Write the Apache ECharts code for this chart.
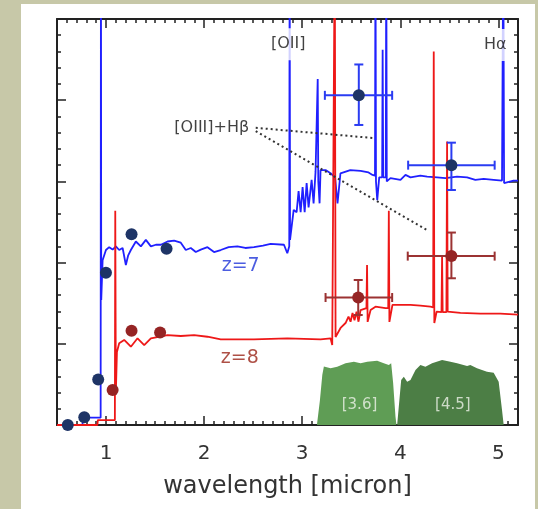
<!DOCTYPE html>
<html>
<head>
<meta charset="UTF-8">
<title>z=7 / z=8 spectra</title>
<script src="https://cdn.jsdelivr.net/npm/echarts@6/dist/echarts.min.js"></script>
<style>
  body { margin: 0; background: #c7c8a8; }
  #panel { position: absolute; left: 21px; top: 4px; width: 514px; height: 505px; background: #fff; }
  #main { position: absolute; left: 0; top: 0; width: 538px; height: 509px; }
</style>
</head>
<body>
<div id="panel"></div>
<div id="main"></div>
<script type="text/javascript">
// wavelength [micron], flux (arbitrary units)
var blueSpec = [
  [0.5, 0.0], [0.76, 0.0], [0.765, 0.09], [0.945, 0.09], [0.948, 6], [0.951, 1.54],
  [0.965, 2.03], [0.999, 2.155], [1.032, 2.19], [1.067, 2.16], [1.10, 2.20], [1.134, 2.155],
  [1.169, 2.18], [1.202, 1.97], [1.226, 2.09], [1.253, 2.155], [1.304, 2.26], [1.355, 2.2],
  [1.406, 2.28], [1.457, 2.2], [1.508, 2.22], [1.559, 2.22], [1.627, 2.26], [1.694, 2.27],
  [1.762, 2.245], [1.813, 2.155], [1.864, 2.18], [1.915, 2.13], [1.966, 2.16], [2.034, 2.19],
  [2.101, 2.13], [2.169, 2.155], [2.25, 2.19], [2.339, 2.2], [2.42, 2.18], [2.508, 2.19],
  [2.6, 2.21], [2.678, 2.23], [2.814, 2.22], [2.848, 2.115], [2.868, 2.2], [2.872, 6],
  [2.876, 2.28], [2.913, 2.65], [2.943, 2.62], [2.963, 2.88], [2.984, 2.62], [3.004, 2.93],
  [3.025, 2.62], [3.045, 2.98], [3.065, 2.68], [3.096, 3.02], [3.116, 2.73], [3.136, 3.12],
  [3.152, 3.1], [3.158, 4.26], [3.164, 3.0], [3.177, 2.73], [3.187, 3.14], [3.238, 3.14],
  [3.289, 3.1], [3.335, 3.05], [3.36, 2.73], [3.39, 3.1], [3.49, 3.14], [3.595, 3.13],
  [3.676, 3.11], [3.717, 3.08], [3.742, 3.07], [3.747, 6], [3.752, 3.0], [3.765, 2.77],
  [3.785, 3.05], [3.815, 3.05], [3.82, 4.62], [3.826, 3.05], [3.852, 3.05], [3.857, 6],
  [3.862, 3.0], [3.9, 3.04], [4.002, 3.02], [4.053, 3.08], [4.104, 3.05], [4.205, 3.07],
  [4.274, 3.06], [4.375, 3.05], [4.46, 3.04], [4.579, 3.06], [4.681, 3.05], [4.765, 3.02],
  [4.85, 3.03], [4.952, 3.02], [5.037, 3.01], [5.05, 6], [5.058, 2.98], [5.071, 2.98],
  [5.155, 3.01], [5.2, 3.01]
];
var redSpec = [
  [0.5, 0.0], [0.912, 0.0], [0.916, 0.06], [1.09, 0.06], [1.094, 2.64], [1.10, 0.4],
  [1.111, 0.9], [1.134, 1.006], [1.185, 1.047], [1.253, 0.964], [1.321, 1.068], [1.389, 0.985],
  [1.457, 1.068], [1.627, 1.108], [1.762, 1.096], [1.898, 1.108], [2.034, 1.087], [2.169, 1.055],
  [2.508, 1.055], [2.848, 1.068], [3.187, 1.055], [3.289, 1.068], [3.306, 0.985], [3.325, 1.0],
  [3.332, 6], [3.34, 1.084], [3.391, 1.195], [3.442, 1.256], [3.472, 1.334], [3.493, 1.272],
  [3.513, 1.38], [3.533, 1.29], [3.554, 1.395], [3.574, 1.272], [3.595, 1.416], [3.615, 1.44],
  [3.655, 1.44], [3.661, 1.97], [3.667, 1.27], [3.697, 1.416], [3.747, 1.457], [3.849, 1.44],
  [3.877, 1.44], [3.883, 2.64], [3.889, 1.27], [3.92, 1.48], [4.002, 1.48], [4.104, 1.48],
  [4.205, 1.47], [4.307, 1.457], [4.335, 1.45], [4.341, 4.6], [4.347, 1.256], [4.37, 1.395],
  [4.42, 1.39], [4.426, 2.07], [4.432, 1.39], [4.47, 1.39], [4.477, 3.49], [4.483, 1.395],
  [4.613, 1.38], [4.816, 1.372], [5.02, 1.372], [5.2, 1.36]
];
// IRAC filter curves
var filt36 = [
  [3.15, 0], [3.18, 0.3], [3.205, 0.62], [3.221, 0.72], [3.289, 0.70], [3.357, 0.718],
  [3.442, 0.76], [3.527, 0.78], [3.595, 0.76], [3.663, 0.78], [3.764, 0.79], [3.832, 0.76],
  [3.883, 0.74], [3.907, 0.76], [3.927, 0.517], [3.951, 0.102], [3.961, 0]
];
var filt45 = [
  [3.968, 0], [4.009, 0.554], [4.036, 0.595], [4.07, 0.533], [4.104, 0.554], [4.155, 0.677],
  [4.205, 0.739], [4.256, 0.718], [4.324, 0.76], [4.426, 0.80], [4.511, 0.78], [4.579, 0.76],
  [4.681, 0.727], [4.714, 0.739], [4.782, 0.698], [4.884, 0.657], [4.952, 0.644], [5.003, 0.533],
  [5.037, 0.185], [5.054, 0]
];
// photometry
var photBlue = [[0.61, 0.0], [0.778, 0.095], [0.92, 0.56], [0.999, 1.876], [1.26, 2.35], [1.617, 2.17], [3.577, 4.06], [4.521, 3.2]];
var photRed = [[1.067, 0.43], [1.26, 1.16], [1.551, 1.14], [3.571, 1.57], [4.521, 2.08]];
// x, y, xlo, xhi, ylo, yhi
var errBlue = [[3.577, 4.06, 3.231, 3.917, 3.695, 4.44], [4.521, 3.2, 4.08, 4.962, 2.894, 3.477]];
var errRed = [[3.571, 1.57, 3.238, 3.917, 1.355, 1.786], [4.521, 2.08, 4.076, 4.962, 1.807, 2.37]];
// leader lines for [OIII]+Hβ
var leaderA = [[2.526, 3.66], [3.727, 3.534]];
var leaderB = [[2.526, 3.62], [4.287, 2.39]];
var xMajor = [1, 2, 3, 4, 5];
var notes = [
  { name: '[OII]', value: [2.857, 4.69], color: '#111', size: 16, bg: '#fff' },
  { name: 'Hα', value: [4.969, 4.68], color: '#111', size: 16, bg: '#fff' },
  { name: '[OIII]+Hβ', value: [2.078, 3.66], color: '#111', size: 16 },
  { name: 'z=7', value: [2.373, 1.96], color: '#1f35d8', size: 19 },
  { name: 'z=8', value: [2.363, 0.825], color: '#9a2418', size: 19 },
  { name: '[3.6]', value: [3.584, 0.246], color: '#eef3e8', size: 15 },
  { name: '[4.5]', value: [4.536, 0.246], color: '#eef3e8', size: 15 }
];

var FONT = 'DejaVu Sans';
var AX = '#222';
var myChart = echarts.init(document.getElementById('main'));

function errItem(color) {
  return function (params, api) {
    var c = api.coord([api.value(0), api.value(1)]);
    var l = api.coord([api.value(2), api.value(1)]);
    var r = api.coord([api.value(3), api.value(1)]);
    var b = api.coord([api.value(0), api.value(4)]);
    var t = api.coord([api.value(0), api.value(5)]);
    var cap = 4.5;
    var st = { stroke: color, lineWidth: 2 };
    function seg(x1, y1, x2, y2) {
      return { type: 'line', shape: { x1: x1, y1: y1, x2: x2, y2: y2 }, style: st };
    }
    return {
      type: 'group',
      children: [
        seg(l[0], c[1], r[0], c[1]),
        seg(l[0], c[1] - cap, l[0], c[1] + cap),
        seg(r[0], c[1] - cap, r[0], c[1] + cap),
        seg(c[0], b[1], c[0], t[1]),
        seg(c[0] - cap, b[1], c[0] + cap, b[1]),
        seg(c[0] - cap, t[1], c[0] + cap, t[1])
      ]
    };
  };
}

function xAx(pos, major) {
  var a = {
    type: 'value', min: 0.5, max: 5.2, position: pos,
    axisLine: { show: !major, onZero: false, lineStyle: { color: AX, width: 2 } },
    splitLine: { show: false },
    axisLabel: { show: false }
  };
  if (major) {
    a.axisTick = { inside: true, length: 9, customValues: xMajor, lineStyle: { color: AX, width: 1.5 } };
  } else {
    a.interval = 0.1;
    a.axisTick = { inside: true, length: 4, lineStyle: { color: AX, width: 1.5 } };
  }
  return a;
}
function yAx(pos, major) {
  return {
    type: 'value', min: 0, max: 5, interval: major ? 1 : 0.2, position: pos,
    axisLine: { show: !major, onZero: false, lineStyle: { color: AX, width: 2 } },
    axisTick: { inside: true, length: major ? 9 : 4, lineStyle: { color: AX, width: 1.5 } },
    axisLabel: { show: false },
    splitLine: { show: false }
  };
}

var xBottomMajor = xAx('bottom', true);
xBottomMajor.axisLabel = { show: true, customValues: xMajor, fontSize: 20, color: '#333', fontFamily: FONT, margin: 19 };
xBottomMajor.name = 'wavelength [micron]';
xBottomMajor.nameLocation = 'middle';
xBottomMajor.nameGap = 50;
xBottomMajor.nameTextStyle = { fontSize: 24, color: '#333', fontFamily: FONT };

var option = {
  animation: false,
  grid: { left: 57, top: 19, right: 20, bottom: 84 },
  xAxis: [xAx('bottom', false), xBottomMajor, xAx('top', false), xAx('top', true)],
  yAxis: [yAx('left', false), yAx('left', true), yAx('right', false), yAx('right', true)],
  series: [
    {
      type: 'line', data: filt36, showSymbol: false, z: 1,
      lineStyle: { width: 0 }, areaStyle: { color: '#5f9d55', opacity: 1 }
    },
    {
      type: 'line', data: filt45, showSymbol: false, z: 1,
      lineStyle: { width: 0 }, areaStyle: { color: '#4c7e45', opacity: 1 }
    },
    {
      type: 'line', data: blueSpec, showSymbol: false, z: 2,
      lineStyle: { color: '#2020ff', width: 1.8 }
    },
    {
      type: 'line', data: redSpec, showSymbol: false, z: 2,
      lineStyle: { color: '#ee1818', width: 1.8 }
    },
    {
      type: 'line', data: leaderA, showSymbol: false, z: 3,
      lineStyle: { color: '#333', width: 2, type: [2, 3] }
    },
    {
      type: 'line', data: leaderB, showSymbol: false, z: 3,
      lineStyle: { color: '#333', width: 2, type: [2, 3] }
    },
    { type: 'custom', renderItem: errItem('#2a3cf2'), data: errBlue, z: 4 },
    { type: 'custom', renderItem: errItem('#9b3232'), data: errRed, z: 4 },
    {
      type: 'scatter', data: photBlue, symbolSize: 12, z: 5,
      itemStyle: { color: '#1e3466', opacity: 1 }
    },
    {
      type: 'scatter', data: photRed, symbolSize: 12, z: 5,
      itemStyle: { color: '#952424', opacity: 1 }
    },
    {
      type: 'scatter', symbolSize: 0, z: 6, silent: true,
      itemStyle: { color: 'transparent' },
      data: notes.map(function (n) {
        var lab = {
          show: true, position: 'inside', formatter: n.name, color: n.color,
          fontSize: n.size, fontFamily: FONT, textBorderWidth: 0, textBorderColor: 'transparent'
        };
        if (n.bg) { lab.backgroundColor = n.bg; lab.padding = [8, 2, 8, 2]; }
        return { name: n.name, value: n.value, label: lab };
      })
    }
  ]
};
myChart.setOption(option);
</script>
</body>
</html>
